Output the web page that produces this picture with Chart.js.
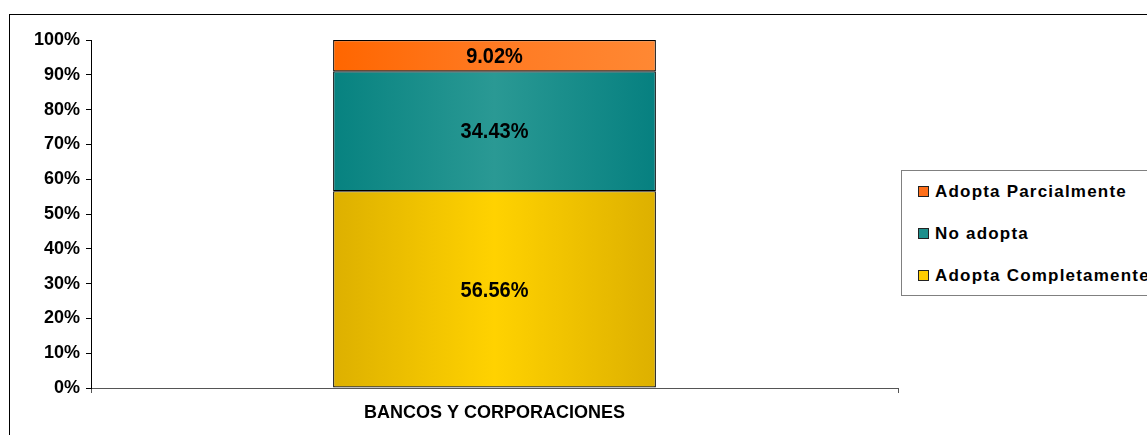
<!DOCTYPE html>
<html>
<head>
<meta charset="utf-8">
<script src="https://cdn.jsdelivr.net/npm/chart.js@4/dist/chart.umd.min.js"></script>
<style>
  html, body { margin: 0; padding: 0; background: #fff; overflow: hidden; }
  #wrap { position: relative; width: 1147px; height: 435px; }
  #frame { position: absolute; left: 9px; top: 14px; width: 1300px; height: 600px; border: 1px solid #000; box-sizing: border-box; }
  canvas { position: absolute; left: 0; top: 0; }
  #legend { position: absolute; left: 901px; top: 170px; width: 300px; height: 126px; border: 1px solid #808080; box-sizing: border-box; background: #fff;
            font-family: "Liberation Sans", Arial, sans-serif; font-weight: bold; font-size: 17px; letter-spacing: 1.2px; color: #000; }
  .item { position: absolute; left: 16px; height: 20px; line-height: 20px; white-space: nowrap; }
  .sw { display: inline-block; width: 9px; height: 9px; border: 1px solid #222; margin-right: 6px; vertical-align: 0px; }
</style>
</head>
<body>
<div id="wrap">
  <div id="frame"></div>
  <canvas id="c" width="1147" height="435"></canvas>
  <div id="legend"></div>
</div>
<script>
const categories = ["BANCOS Y CORPORACIONES"];
const seriesNames = ["Adopta Completamente", "No adopta", "Adopta Parcialmente"];
const adoptaCompletamente = [56.56];
const noAdopta = [34.43];
const adoptaParcialmente = [9.02];
const yTicks = [0, 10, 20, 30, 40, 50, 60, 70, 80, 90, 100];

// gradient stops: edge, center, edge
const palettes = [
  { solid: "#F2C500", stops: ["#DDB000", "#FFD200", "#DDB000"], swatch: "#FFCC00" },
  { solid: "#1A8C8A", stops: ["#078280", "#2A9994", "#068080"], swatch: "#1E8F8C" },
  { solid: "#FF7722", stops: ["#FF6600", "#FF7A22", "#FF8833"], swatch: "#FF6F1A" }
];

function makeBg(pi) {
  return function(ctx) {
    const chart = ctx.chart;
    const xs = chart.scales && chart.scales.x;
    if (!chart.chartArea || !xs) return palettes[pi].solid;
    const cw = xs.width / categories.length;
    const cx = xs.getPixelForValue(ctx.dataIndex || 0);
    const half = cw * 0.4 / 2;
    const g = chart.ctx.createLinearGradient(cx - half, 0, cx + half, 0);
    const s = palettes[pi].stops;
    g.addColorStop(0, s[0]);
    g.addColorStop(0.5, s[1]);
    g.addColorStop(1, s[2]);
    return g;
  };
}

const labelPlugin = {
  id: 'barLabels',
  afterDatasetsDraw(chart) {
    const c = chart.ctx;
    c.save();
    c.font = 'bold 20px "Liberation Sans", Arial, sans-serif';
    c.fillStyle = '#000';
    c.textAlign = 'center';
    c.textBaseline = 'middle';
    chart.data.datasets.forEach((ds, di) => {
      const meta = chart.getDatasetMeta(di);
      meta.data.forEach((el, i) => {
        const v = ds.data[i];
        const y = (el.y + el.base) / 2;
        c.save();
        c.translate(el.x, y + 1);
        c.scale(1, 1.12);
        c.fillText(v.toFixed(2) + '%', 0, 0);
        c.restore();
      });
    });
    c.restore();
  }
};

const F = '"Liberation Sans", Arial, sans-serif';

new Chart(document.getElementById('c'), {
  type: 'bar',
  data: {
    labels: categories,
    datasets: [
      { label: seriesNames[0], data: adoptaCompletamente, backgroundColor: makeBg(0), borderColor: '#000', borderWidth: 1.2, borderSkipped: false },
      { label: seriesNames[1], data: noAdopta, backgroundColor: makeBg(1), borderColor: '#000', borderWidth: 1.2, borderSkipped: false },
      { label: seriesNames[2], data: adoptaParcialmente, backgroundColor: makeBg(2), borderColor: '#000', borderWidth: 1.2, borderSkipped: false }
    ]
  },
  options: {
    responsive: false,
    animation: false,
    devicePixelRatio: 1,
    layout: { padding: { left: 0, top: 40, right: 249, bottom: 0 } },
    datasets: { bar: { barPercentage: 0.4, categoryPercentage: 1.0 } },
    plugins: { legend: { display: false }, tooltip: { enabled: false } },
    scales: {
      x: {
        stacked: true,
        afterFit(s) { s.height = 47; },
        grid: { drawOnChartArea: false, drawTicks: true, tickLength: 5, color: '#555', offset: true },
        border: { color: '#555', width: 1 },
        ticks: { color: '#000', font: { family: F, weight: 'bold', size: 18 }, padding: 9 }
      },
      y: {
        stacked: true,
        min: 0, max: 100,
        afterFit(s) { s.width = 91; },
        afterBuildTicks(s) { s.ticks = yTicks.map(v => ({ value: v })); },
        grid: { drawOnChartArea: false, drawTicks: true, tickLength: 5, color: '#000' },
        border: { color: '#000', width: 1 },
        ticks: { color: '#000', font: { family: F, weight: 'bold', size: 18 }, padding: 6, callback: v => v + '%' }
      }
    }
  },
  plugins: [labelPlugin]
});

// legend (reverse order, like the reference)
const lg = document.getElementById('legend');
const rowsTop = [11, 53, 95];
[2, 1, 0].forEach((si, k) => {
  const d = document.createElement('div');
  d.className = 'item';
  d.style.top = rowsTop[k] + 'px';
  const sw = document.createElement('span');
  sw.className = 'sw';
  sw.style.background = palettes[si].swatch;
  d.appendChild(sw);
  d.appendChild(document.createTextNode(seriesNames[si]));
  lg.appendChild(d);
});
</script>
</body>
</html>
